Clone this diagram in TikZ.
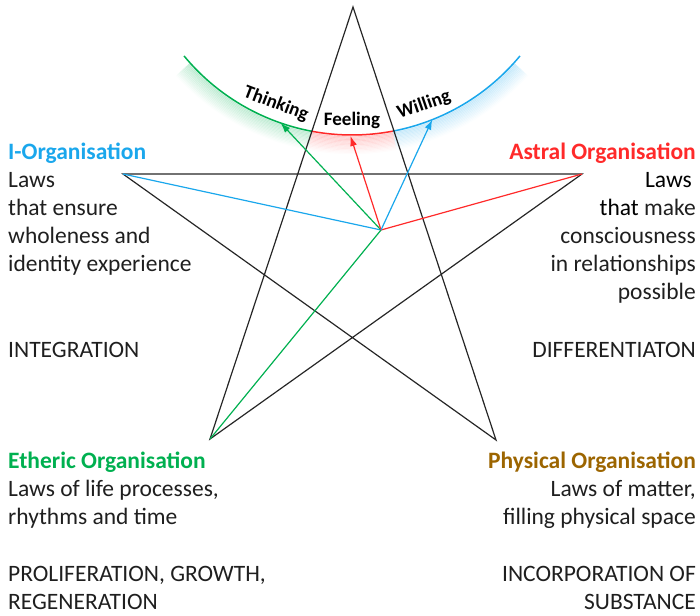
\documentclass[tikz,border=0pt]{standalone}
\usepackage{fontspec}
\setmainfont{Carlito}
\usetikzlibrary{arrows.meta}

\definecolor{iblue}{HTML}{1AA7EC}
\definecolor{astralred}{HTML}{FF2A2A}
\definecolor{ethgreen}{HTML}{00B050}
\definecolor{physbrown}{HTML}{9C6500}

\tikzset{
  star/.style={line width=1.2pt, draw=black!85, line join=miter},
  ray/.style={line width=1.2pt},
  arrowray/.style={ray, -{Latex[length=10pt,width=7pt]}},
  block/.style={inner sep=0pt, font=\fontsize{23.5}{28}\selectfont, text=black!88},
  armlabel/.style={inner sep=0pt, font=\fontsize{19}{22}\selectfont\bfseries},
}

\begin{document}
\begin{tikzpicture}[x=1pt,y=-1pt]
\useasboundingbox (0,0) rectangle (700,615);

% corners of the pentagram
\coordinate (top) at (353,7);
\coordinate (left) at (123,174);
\coordinate (right) at (582,174);
\coordinate (botleft) at (210,439);
\coordinate (botright) at (496,440);
\coordinate (mid) at (381,230);
\coordinate (arcC) at (352,-83);

% soft glow under the soul arc
\foreach \k in {1,...,14} {
  \pgfmathsetlengthmacro\rr{218pt+1.3*\k pt}
  \pgfmathsetmacro\op{0.16*(1-\k/15)}
  \draw[ethgreen, line width=2pt, opacity=\op] (arcC) ++(222:\rr) arc[start angle=222, end angle=259.4, radius=\rr];
  \draw[astralred, line width=2pt, opacity=\op] (arcC) ++(259.4:\rr) arc[start angle=259.4, end angle=280.8, radius=\rr];
  \draw[iblue, line width=2pt, opacity=\op] (arcC) ++(280.8:\rr) arc[start angle=280.8, end angle=318, radius=\rr];
}

% the arc itself
\draw[ethgreen, line width=1.5pt] (arcC) ++(219.6:218pt) arc[start angle=219.6, end angle=259.4, radius=218pt];
\draw[astralred, line width=1.5pt] (arcC) ++(259.4:218pt) arc[start angle=259.4, end angle=280.8, radius=218pt];
\draw[iblue, line width=1.5pt] (arcC) ++(280.8:218pt) arc[start angle=280.8, end angle=320.4, radius=218pt];

\path (arcC) ++(250.9:218pt) coordinate (thinkTip);
\path (arcC) ++(269.6:219pt) coordinate (feelTip);
\path (arcC) ++(291.6:218pt) coordinate (willTip);

% pentagram
\draw[star] (top) -- (botleft) -- (right) -- (left) -- (botright) -- cycle;

% rays from the middle
\draw[ray, iblue] (mid) -- (left);
\draw[ray, astralred] (mid) -- (right);
\draw[ray, ethgreen] (mid) -- (botleft);
\draw[arrowray, ethgreen] (mid) -- (thinkTip);
\draw[arrowray, astralred] (mid) -- (feelTip);
\draw[arrowray, iblue] (mid) -- (willTip);

\node[armlabel, rotate=-21] (thinking) at (276,104) {Thinking};
\node[armlabel] (feeling) at (352,120) {Feeling};
\node[armlabel, rotate=19] (willing) at (424,105) {Willing};

% the four organisations (base = last line)
\node[block, anchor=base west, align=left] (iorg) at (8,271)
  {\textcolor{iblue}{\bfseries I-Organisation}\\Laws\\that ensure\\wholeness and\\identity experience};
\node[block, anchor=base west] (integ) at (8,357) {INTEGRATION};

\node[block, anchor=base east, align=right] (astral) at (696,299)
  {\textcolor{astralred}{\bfseries Astral Organisation}\\\textcolor{black}{Laws}\kern4pt\\\textcolor{black}{that} make\\consciousness\\in relationships\\possible};
\node[block, anchor=base east] (diff) at (696,357) {DIFFERENTIATON};

\node[block, anchor=base west, align=left] (etheric) at (8,524)
  {\textcolor{ethgreen}{\bfseries Etheric Organisation}\\Laws of life processes,\\rhythms and time};
\node[block, anchor=base west, align=left] (prolif) at (8,609) {PROLIFERATION, GROWTH,\\REGENERATION};

\node[block, anchor=base east, align=right] (phys) at (696,524)
  {\textcolor{physbrown}{\bfseries Physical Organisation}\\Laws of matter,\\filling physical space};
\node[block, anchor=base east, align=right] (incorp) at (696,609) {INCORPORATION OF\\SUBSTANCE};
\end{tikzpicture}
\end{document}
